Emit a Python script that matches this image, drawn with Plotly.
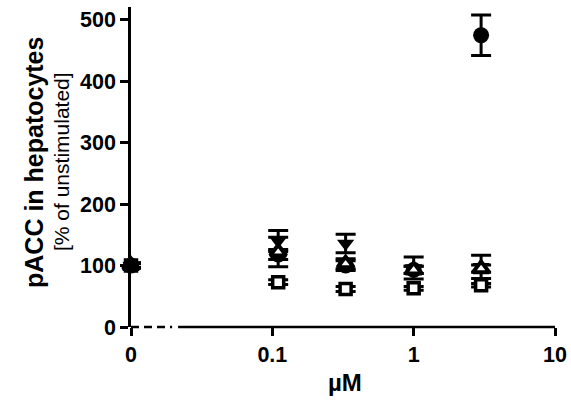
import plotly.graph_objects as go

# Data (concentration in µM; 0 = vehicle, drawn at the axis break)
conc = [0, 0.11, 0.33, 1, 3]
x_tick_vals = [0, 0.1, 1, 10]
x_tick_text = ["0", "0.1", "1", "10"]
y_tick_vals = [0, 100, 200, 300, 400, 500]

circle_y = [100, 118, 100, 93, 475]
circle_err = [4, 8, 8, 6, 33]
tri_down_y = [100, 140, 136, 96, 98]
tri_down_err = [4, 17, 15, 18, 19]
tri_up_y = [100, 122, 103, 93, 95]
tri_up_err = [4, 24, 8, 6, 6]
square_y = [100, 73, 62, 63, 68]
square_err = [3, 4, 4, 3, 3]

ZERO_POS = 0.01  # position of the "0" on the broken log axis


def xpos(v):
    return [ZERO_POS if c == 0 else c for c in v]


def open_fill(v):
    # overlapping markers at the vehicle point read as one solid black mark
    return ["black" if c == 0 else "white" for c in v]


FONT = "Liberation Sans, Arial, sans-serif"
fig = go.Figure()


def add(y, err, symbol, fill, size, lw):
    fig.add_trace(go.Scatter(
        x=xpos(conc), y=y, mode="markers", cliponaxis=False,
        marker=dict(symbol=symbol, size=size, color=fill,
                    line=dict(color="black", width=lw)),
        error_y=dict(type="data", array=err, visible=True,
                     color="black", thickness=3, width=10),
        showlegend=False))


add(circle_y, circle_err, "circle", "black", 16, 0)
add(tri_down_y, tri_down_err, "triangle-down", "black", 15, 0)
add(tri_up_y, tri_up_err, "triangle-up", open_fill(conc), 14, 4)
add(square_y, square_err, "square", open_fill(conc), 11, 3.5)

fig.update_layout(
    width=571, height=406,
    margin=dict(l=131, r=16, t=7, b=79),
    paper_bgcolor="white", plot_bgcolor="white",
    font=dict(family=FONT, color="black"),
    xaxis=dict(type="log", range=[-2, 1], showgrid=False, zeroline=False,
               showline=False, automargin=False,
               tickvals=xpos(x_tick_vals), ticktext=x_tick_text,
               ticks="outside", ticklen=8, tickwidth=2.5, tickcolor="black",
               tickfont=dict(size=21.5, family=FONT, weight="bold")),
    yaxis=dict(range=[0, 521], showgrid=False, zeroline=False,
               showline=True, linecolor="black", linewidth=2.5,
               automargin=False,
               tickvals=y_tick_vals, ticks="outside", ticklen=8,
               tickwidth=2.5, tickcolor="black",
               tickfont=dict(size=21.5, family=FONT, weight="bold")),
)

# broken x axis line: dashed near zero, solid for the log part
fig.add_shape(type="line", xref="paper", yref="paper", x0=0, x1=0.097,
              y0=0, y1=0, line=dict(color="black", width=2.5, dash="8px,5px"))
fig.add_shape(type="line", xref="paper", yref="paper", x0=0.111, x1=1.0,
              y0=0, y1=0, line=dict(color="black", width=2.5))

fig.add_annotation(text="<b>pACC in hepatocytes</b>", xref="paper", yref="paper",
                   x=(34 - 131) / 424, y=(327 - 163) / 320, textangle=-90,
                   showarrow=False, xanchor="center", yanchor="middle",
                   font=dict(size=25, family=FONT))
fig.add_annotation(text="[% of unstimulated]", xref="paper", yref="paper",
                   x=(61 - 131) / 424, y=(327 - 162) / 320, textangle=-90,
                   showarrow=False, xanchor="center", yanchor="middle",
                   font=dict(size=21, family=FONT))
fig.add_annotation(text="<b>µM</b>", xref="paper", yref="paper",
                   x=(345 - 131) / 424, y=(327 - 382) / 320, showarrow=False,
                   xanchor="center", yanchor="middle",
                   font=dict(size=24, family=FONT))

fig.write_html("out.html", config={"displayModeBar": False},
               post_script="document.body.style.margin='0px';")
